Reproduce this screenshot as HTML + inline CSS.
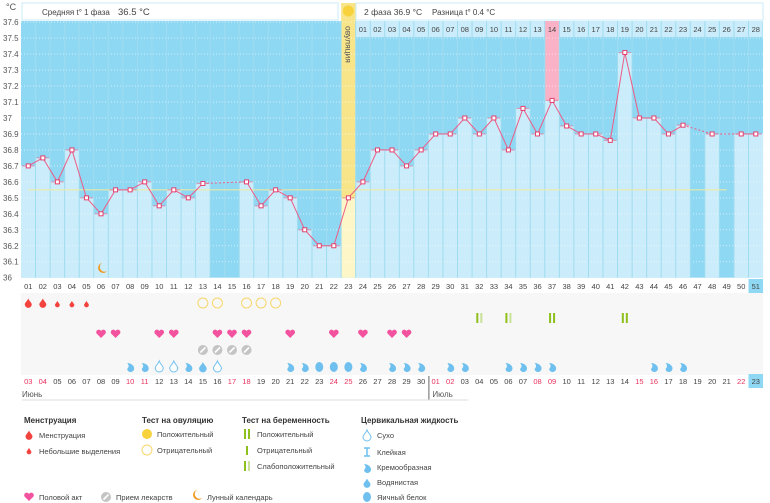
<!DOCTYPE html>
<html><head><meta charset="utf-8"><style>
body{margin:0;background:#fff;width:770px;height:503px;overflow:hidden;font-family:"Liberation Sans",sans-serif}
svg{display:block}
</style></head><body>
<svg id="s" width="770" height="503" xmlns="http://www.w3.org/2000/svg" font-family="Liberation Sans, sans-serif"></svg>
<script>
const S=document.getElementById('s');
const NS='http://www.w3.org/2000/svg';
function el(t,a,txt){const e=document.createElementNS(NS,t);for(const k in a)e.setAttribute(k,a[k]);if(txt!==undefined)e.textContent=txt;S.appendChild(e);return e;}
const L=21,W=14.55,Y0=277.7,DY=15.97;
const cx=i=>L+(i-0.5)*W;
const ty=t=>Y0-(t-36)*10*DY;
const T=[null,36.7,36.75,36.6,36.8,36.5,36.4,36.55,36.55,36.6,36.45,36.55,36.5,36.59,null,null,36.6,36.45,36.55,36.5,36.3,36.2,36.2,36.5,36.6,36.8,36.8,36.7,36.8,36.9,36.9,37.0,36.9,37.0,36.8,37.06,36.9,37.11,36.95,36.9,36.9,36.86,37.41,37.0,37.0,36.9,36.955,null,36.9,null,36.9,36.9];
el('text',{x:6,y:10,'font-size':9,fill:'#555'},'°C');
for(let k=0;k<=16;k++){const v=(36+k/10);let s=v.toFixed(1);if(k==0)s='36';if(k==10)s='37';el('text',{x:3,y:ty(v)+3,'font-size':8,fill:'#555'},s);}
el('rect',{x:L,y:21,width:51*W,height:Y0-21,fill:'#8fd8f3'});
for(let i=1;i<=51;i++){if(T[i]==null)continue;el('rect',{x:L+(i-1)*W,y:ty(T[i]),width:W,height:Y0-ty(T[i]),fill:i==23?'#fdf6c8':'#cbedfb'});}
el('rect',{x:L+22*W,y:3,width:W,height:ty(36.5)-3,fill:'#f8e58a'});
el('rect',{x:L+36*W,y:21,width:W,height:ty(37.11)-21,fill:'#f9b2c6'});
for(let k=1;k<=16;k++){el('line',{x1:L,x2:L+51*W,y1:ty(36+k/10),y2:ty(36+k/10),stroke:'#fff','stroke-opacity':0.6,'stroke-dasharray':'1,2','stroke-width':1});}
for(let i=1;i<51;i++){el('line',{x1:L+i*W,x2:L+i*W,y1:21,y2:Y0,stroke:'#9fdcef','stroke-width':1});}
el('rect',{x:22,y:3,width:316,height:17,fill:'#fff',stroke:'#c9ecf8'});
el('text',{x:42,y:15,'font-size':8,fill:'#444'},'Средняя t° 1 фаза ');
el('text',{x:118,y:15,'font-size':9.5,fill:'#444'},'36.5 °C');
el('rect',{x:356,y:3,width:407,height:17,fill:'#fff',stroke:'#c9ecf8'});
el('text',{x:364,y:15,'font-size':8.5,fill:'#444'},'2 фаза 36.9 °C');
el('text',{x:432,y:15,'font-size':8,fill:'#444'},'Разница t° 0.4 °C');
el('circle',{cx:cx(23),cy:11,r:5.5,fill:'#f8d23c'});
el('text',{x:0,y:0,'font-size':8.5,fill:'#555',transform:`translate(${cx(23)-3},26) rotate(90)`},'овуляция');
for(let i=24;i<=51;i++){el('rect',{x:L+(i-1)*W+0.5,y:21,width:W-1,height:16,fill:i==37?'#f9b2c6':'#cbedfb'});el('text',{x:cx(i),y:32,'font-size':7.5,fill:'#444','text-anchor':'middle'},String(i-23).padStart(2,'0'));}
el('line',{x1:cx(1),x2:cx(49),y1:ty(36.55),y2:ty(36.55),stroke:'#f3ea9a','stroke-width':1});
let prev=null;
for(let i=1;i<=51;i++){if(T[i]==null)continue;if(prev){const gap=i-prev>1;el('line',{x1:cx(prev),y1:ty(T[prev]),x2:cx(i),y2:ty(T[i]),stroke:'#ee5b86','stroke-width':1,'stroke-dasharray':gap?'2,2':'none'});}prev=i;}
for(let i=1;i<=51;i++){if(T[i]==null)continue;const y=ty(T[i]);el('line',{x1:L+(i-1)*W+1,x2:L+i*W-1,y1:y,y2:y,stroke:'#e76a8e','stroke-width':1.2,'stroke-opacity':0.6});el('rect',{x:cx(i)-2,y:y-2,width:4,height:4,fill:'#fff',stroke:'#e3406e','stroke-width':1});}
el('path',{d:`M${cx(6)+1},263 a5,5 0 1 0 5,8 a4,4 0 1 1 -5,-8z`,fill:'#f0961c'});
el('rect',{x:L,y:293,width:51*W,height:82,fill:'#f7f7f7'});
for(let i=1;i<=51;i++){
 if(i==51)el('rect',{x:L+50*W,y:279,width:W,height:14,fill:'#8fd8f3'});
 el('text',{x:cx(i),y:289,'font-size':7.5,fill:'#444','text-anchor':'middle'},String(i).padStart(2,'0'));
}
const reds=[3,4,10,11,17,18,24,25,31,32,38,39,45,46,52,53];
for(let i=1;i<=51;i++){let d=i+2;let lbl=d<=30?d:d-30;const isRed=reds.includes(d);if(i==51)el('rect',{x:L+50*W,y:374,width:W,height:14,fill:'#8fd8f3'});
 el('text',{x:cx(i),y:384,'font-size':7.5,fill:isRed&&i!=51?'#e8335f':'#444','text-anchor':'middle'},String(lbl).padStart(2,'0'));}
el('line',{x1:L+28*W+0.5,x2:L+28*W+0.5,y1:376,y2:400,stroke:'#666'});
el('text',{x:22,y:397,'font-size':8,fill:'#555'},'Июнь');
el('text',{x:L+28*W+4,y:397,'font-size':8,fill:'#555'},'Июль');
el('line',{x1:22,x2:L+28*W+40,y1:400,y2:400,stroke:'#ddd'});
function drop(x,y,s,c){el('path',{d:`M${x},${y-s*1.3} C${x+s*0.3},${y-s*0.6} ${x+s},${y-s*0.1} ${x+s},${y+s*0.4} A${s},${s} 0 0 1 ${x-s},${y+s*0.4} C${x-s},${y-s*0.1} ${x-s*0.3},${y-s*0.6} ${x},${y-s*1.3}z`,fill:c});}
function heart(x,y,c){el('path',{d:`M${x},${y+4} L${x-4.5},${y-0.5} A2.3,2.3 0 0 1 ${x},${y-3} A2.3,2.3 0 0 1 ${x+4.5},${y-0.5}z`,fill:c});}
function ring(x,y,r,c,f){el('circle',{cx:x,cy:y,r:r,fill:f||'none',stroke:c,'stroke-width':1});}
function cream(x,y,c){el('path',{d:`M${x-3},${y-4} C${x+1},${y-4} ${x+4},${y-1} ${x+4},${y+1} A3.5,3.5 0 0 1 ${x-3},${y+2} C${x-1},${y} ${x-1},${y-2} ${x-3},${y-4}z`,fill:c});}
function pill(x,y){el('circle',{cx:x,cy:y,r:5,fill:'#c4c4c4'});el('line',{x1:x-2.5,y1:y+2.5,x2:x+2.5,y2:y-2.5,stroke:'#fff','stroke-width':1.6});}
function test(x,y,c1,c2){el('rect',{x:x-3,y:y-5,width:2,height:10,fill:c1});el('rect',{x:x+1,y:y-5,width:2,height:10,fill:c2});}
[1,2].forEach(i=>drop(cx(i),303,3.5,'#f3433f'));
[3,4,5].forEach(i=>drop(cx(i),304,2.4,'#f3433f'));
[13,14,16,17,18].forEach(i=>ring(cx(i),303,5,'#f7d76e'));
test(cx(32),318,'#8fbf1b','#c9e29a');test(cx(34),318,'#8fbf1b','#c9e29a');test(cx(37),318,'#8fbf1b','#8fbf1b');test(cx(42),318,'#8fbf1b','#8fbf1b');
[6,7,10,11,14,15,16,19,22,24,26,27].forEach(i=>heart(cx(i),334,'#f2529e'));
[13,14,15,16].forEach(i=>pill(cx(i),350));
[8,9,12,19,20,24,26,27,28,30,31,34,35,36,37,44,45,46].forEach(i=>cream(cx(i),367,'#6fc0ef'));
[10,11,14].forEach(i=>{el('path',{d:`M${cx(i)},361 C${cx(i)+1},364 ${cx(i)+4},366 ${cx(i)+4},368 A4,4 0 0 1 ${cx(i)-4},368 C${cx(i)-4},366 ${cx(i)-1},364 ${cx(i)},361z`,fill:'#fff',stroke:'#6fc0ef','stroke-width':1});});
drop(cx(13),367,3.8,'#6fc0ef');
[21,22,23].forEach(i=>el('ellipse',{cx:cx(i),cy:367,rx:4,ry:5,fill:'#6fc0ef'}));
const B={'font-size':8,'font-weight':'bold',fill:'#333'};const N={'font-size':7.5,fill:'#444'};
el('text',Object.assign({x:24,y:423},B),'Менструация');
drop(29,435,3.5,'#f3433f');el('text',Object.assign({x:39,y:438},N),'Менструация');
drop(29,451,2.4,'#f3433f');el('text',Object.assign({x:39,y:454},N),'Небольшие выделения');
el('text',Object.assign({x:142,y:423},B),'Тест на овуляцию');
el('circle',{cx:147,cy:434,r:5,fill:'#f8d23c'});el('text',Object.assign({x:157,y:437},N),'Положительный');
ring(147,450,5,'#f7d76e');el('text',Object.assign({x:157,y:453},N),'Отрицательный');
el('text',Object.assign({x:242,y:423},B),'Тест на беременность');
test(247,434,'#8fbf1b','#8fbf1b');el('text',Object.assign({x:257,y:437},N),'Положительный');
el('rect',{x:246,y:446,width:2,height:9,fill:'#8fbf1b'});el('text',Object.assign({x:257,y:453},N),'Отрицательный');
test(247,466,'#8fbf1b','#c9e29a');el('text',Object.assign({x:257,y:469},N),'Слабоположительный');
el('text',Object.assign({x:361,y:423},B),'Цервикальная жидкость');
el('path',{d:`M367,430 C368,433 371,435 371,437 A4,4 0 0 1 363,437 C363,435 366,433 367,430z`,fill:'#fff',stroke:'#6fc0ef'});el('text',Object.assign({x:377,y:438},N),'Сухо');
el('path',{d:'M364,448 h6 M367,448 v8 M364,456 h6',stroke:'#6fc0ef','stroke-width':1.5});el('text',Object.assign({x:377,y:455},N),'Клейкая');
cream(367,468,'#6fc0ef');el('text',Object.assign({x:377,y:470},N),'Кремообразная');
drop(367,483,3.5,'#6fc0ef');el('text',Object.assign({x:377,y:485},N),'Водянистая');
el('ellipse',{cx:367,cy:497,rx:4,ry:5,fill:'#6fc0ef'});el('text',Object.assign({x:377,y:500},N),'Яичный белок');
heart(29,497,'#f2529e');el('text',Object.assign({x:39,y:500},N),'Половой акт');
pill(106,497);el('text',Object.assign({x:116,y:500},N),'Прием лекарств');
el('path',{d:'M197,490 a5,5 0 1 0 5,8 a4,4 0 1 1 -5,-8z',fill:'#f0961c'});el('text',Object.assign({x:207,y:500},N),'Лунный календарь');
</script>
</body></html>
